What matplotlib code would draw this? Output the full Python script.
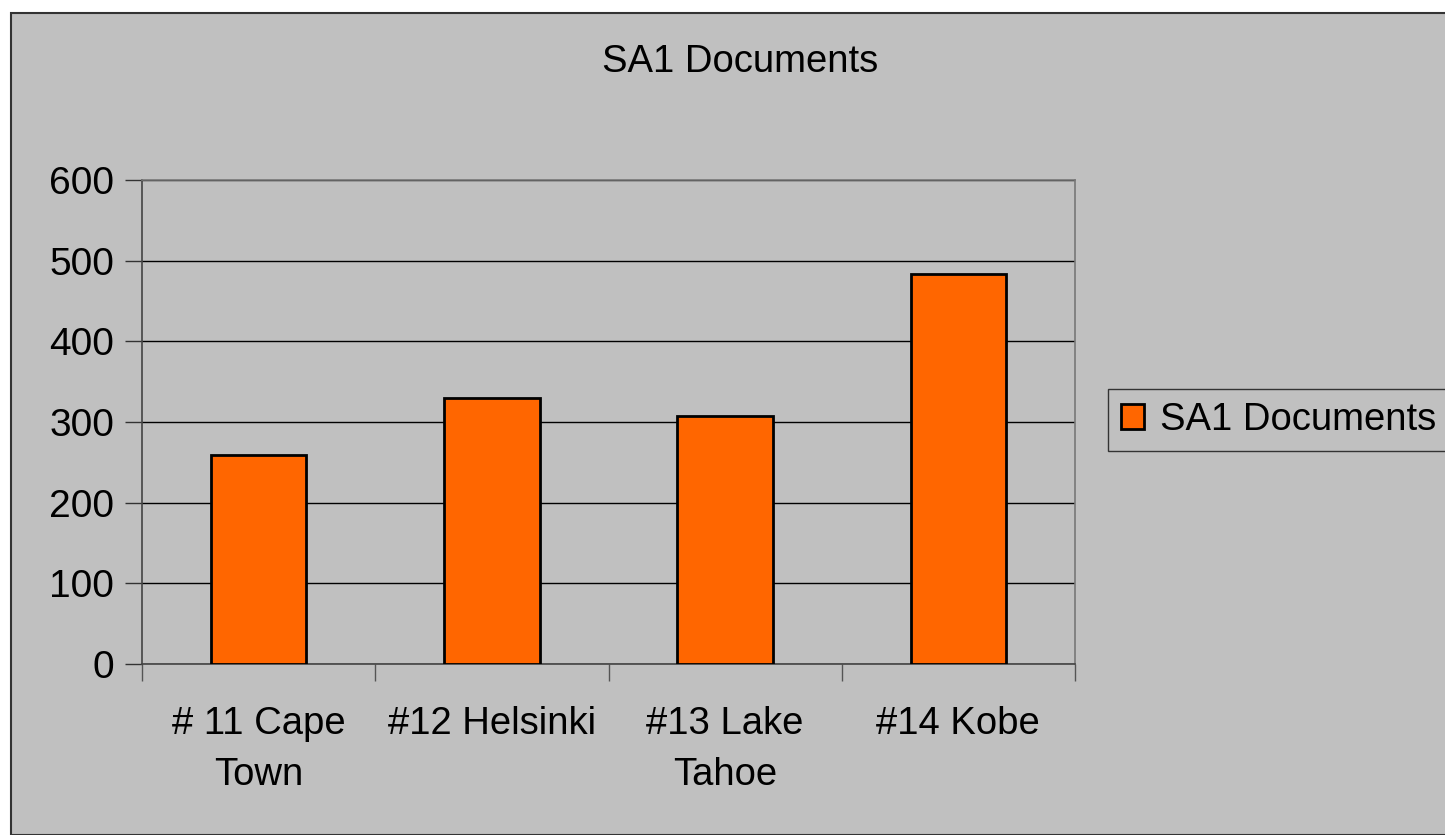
import matplotlib.pyplot as plt
from matplotlib.patches import Rectangle

plt.rcParams['font.family'] = ['Liberation Sans', 'DejaVu Sans']

# werte
orte = ['# 11 Cape\nTown', '#12 Helsinki', '#13 Lake\nTahoe', '#14 Kobe']
dokumente = [259, 330, 307, 484]
serie = 'SA1 Documents'

grau = '#C0C0C0'
orange = '#FF6600'

fig = plt.figure(figsize=(14.45, 8.35), dpi=100, facecolor='white')

# grauer rahmen wie im excel-diagramm
rahmen = Rectangle((11 / 1445, 0), 1.0, 1 - 13 / 835, transform=fig.transFigure,
                   facecolor=grau, edgecolor='#333333', linewidth=1.5, zorder=-5)
fig.patches.append(rahmen)

ax = fig.add_axes([142 / 1445, 171 / 835, 933 / 1445, 484 / 835])
ax.set_facecolor(grau)

x = range(len(orte))
ax.bar(x, dokumente, width=0.41, color=orange, edgecolor='black',
       linewidth=2, label=serie, zorder=3)

ax.set_xlim(-0.5, len(orte) - 0.5)
ax.set_ylim(0, 600)
ax.set_yticks(range(0, 601, 100))
ax.yaxis.grid(True, color='black', linewidth=1, zorder=1)
ax.set_axisbelow(True)

ax.set_xticks(list(x))
ax.set_xticklabels(orte, fontsize=27.5, linespacing=1.55)
ax.set_xticks([i - 0.5 for i in range(len(orte) + 1)], minor=True)
ax.tick_params(axis='x', which='major', length=0, pad=30)
ax.tick_params(axis='x', which='minor', length=12, width=1, color='#555555',
               direction='out')
ax.tick_params(axis='y', labelsize=28, length=12, width=1, color='#333333',
               direction='out', pad=8)

for s in ['top', 'right']:
    ax.spines[s].set_color('#777777')
    ax.spines[s].set_linewidth(1.2)
for s in ['left', 'bottom']:
    ax.spines[s].set_color('#444444')
    ax.spines[s].set_linewidth(1.2)

fig.text(740 / 1445, 1 - 62 / 835, serie, fontsize=27.5, ha='center', va='center')

leg = fig.legend(loc='center left', bbox_to_anchor=(1108 / 1445, 1 - 420 / 835),
                 fontsize=27.5, frameon=True, fancybox=False, borderpad=0.35,
                 handlelength=0.6, handleheight=0.6, handletextpad=0.4,
                 borderaxespad=0)
leg.get_frame().set_facecolor(grau)
leg.get_frame().set_edgecolor('#333333')
leg.get_frame().set_linewidth(1)
leg.get_frame().set_alpha(1)

fig.savefig('out.png', dpi=100, facecolor='white')
